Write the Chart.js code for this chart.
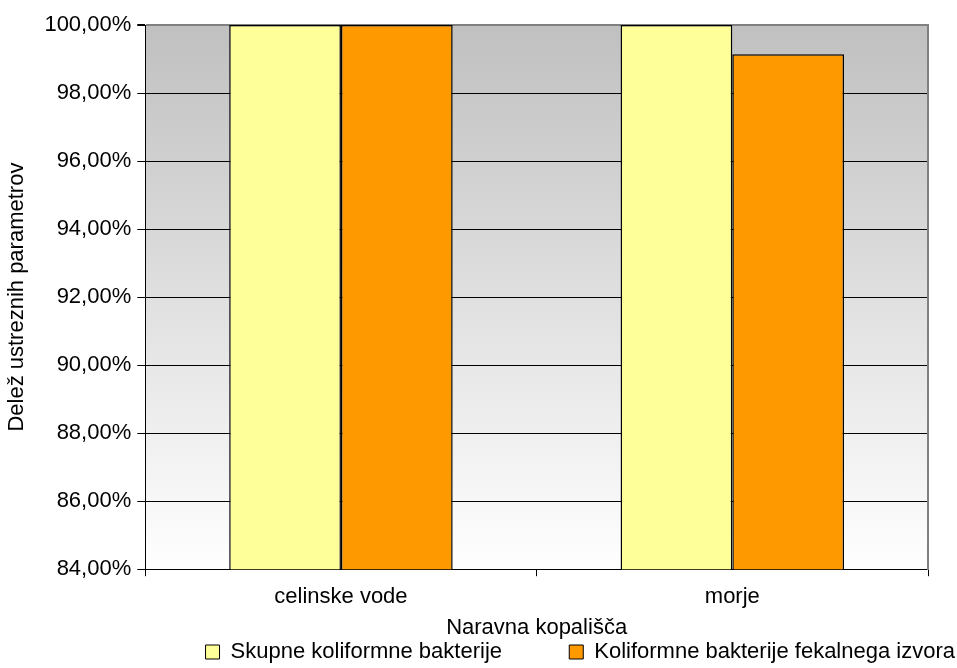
<!DOCTYPE html>
<html>
<head>
<meta charset="utf-8">
<script src="https://cdn.jsdelivr.net/npm/chart.js@4.4.1/dist/chart.umd.min.js"></script>
<style>
  html, body { margin: 0; padding: 0; background: #fff; }
  #wrap { width: 957px; height: 668px; position: relative; }
</style>
</head>
<body>
<div id="wrap"><canvas id="chart"></canvas></div>
<script>
// kopališča in deleži ustreznih vzorcev (%)
var categories = ['celinske vode', 'morje'];
var skupneKoliformne = [100, 100];
var fekalneKoliformne = [100, 99.14];
var seriesNames = ['Skupne koliformne bakterije', 'Koliformne bakterije fekalnega izvora'];
var yMin = 84, yMax = 100, yStep = 2;

var FONT = 'Liberation Sans, Arial, sans-serif';
Chart.defaults.font.family = FONT;
Chart.defaults.font.size = 22;
Chart.defaults.color = '#000';

// siv prehod v ozadju risalne površine
var plotBackground = {
    id: 'plotBackground',
    beforeDraw: function (chart) {
        var a = chart.chartArea, ctx = chart.ctx;
        var g = ctx.createLinearGradient(0, a.top, 0, a.bottom);
        g.addColorStop(0, '#c0c0c0');
        g.addColorStop(1, '#ffffff');
        ctx.save();
        ctx.fillStyle = g;
        ctx.fillRect(a.left, a.top, a.right - a.left, a.bottom - a.top);
        ctx.restore();
    }
};

function pct(v) {
    return v.toFixed(2).replace('.', ',') + '%';
}

new Chart(document.getElementById('chart').getContext('2d'), {
    type: 'bar',
    data: {
        labels: categories,
        datasets: [{
            label: seriesNames[0],
            data: skupneKoliformne,
            backgroundColor: '#ffff99',
            borderColor: '#000',
            borderWidth: 1.5
        }, {
            label: seriesNames[1],
            data: fekalneKoliformne,
            backgroundColor: '#ff9900',
            borderColor: '#000',
            borderWidth: 1.5
        }]
    },
    options: {
        responsive: true,
        maintainAspectRatio: false,
        animation: false,
        layout: { padding: { left: 4, right: 2, top: 25, bottom: -5 } },
        datasets: { bar: { categoryPercentage: 0.571, barPercentage: 1 } },
        plugins: {
            legend: {
                position: 'bottom',
                align: 'end',
                labels: {
                    boxWidth: 14,
                    boxHeight: 14,
                    padding: 0,
                    font: { size: 22 },
                    generateLabels: function (chart) {
                        var n = chart.data.datasets.length;
                        return chart.data.datasets.map(function (ds, i) {
                            // razmik med vnosoma legende
                            var gap = i < n - 1 ? ' '.repeat(11) : '';
                            return {
                                text: ds.label + gap,
                                fillStyle: ds.backgroundColor,
                                strokeStyle: '#000',
                                lineWidth: 1,
                                datasetIndex: i
                            };
                        });
                    }
                }
            },
            tooltip: { enabled: false }
        },
        scales: {
            x: {
                grid: { drawOnChartArea: false, drawTicks: true, tickLength: 7, color: '#000' },
                border: { color: '#000', width: 1 },
                ticks: { padding: 8, font: { size: 22 } },
                title: { display: true, text: 'Naravna kopališča', font: { size: 22 }, padding: { top: -4, bottom: 0 } }
            },
            y: {
                min: yMin,
                max: yMax,
                ticks: { stepSize: yStep, padding: 6, callback: function (v) { return pct(v); } },
                grid: {
                    color: function (c) { return c.tick && c.tick.value === yMax ? '#808080' : '#000'; },
                    lineWidth: function (c) { return c.tick && c.tick.value === yMax ? 2 : 1; },
                    tickColor: '#000',
                    tickLength: 8
                },
                border: { color: '#000', width: 1 },
                title: { display: true, text: 'Delež ustreznih parametrov', font: { size: 22 }, padding: { top: 0, bottom: 8 } }
            },
            yRight: {
                position: 'right',
                min: yMin,
                max: yMax,
                ticks: { display: false },
                grid: { display: false },
                border: { color: '#808080', width: 2 },
                afterFit: function (scale) { scale.width = 27; }
            }
        }
    },
    plugins: [plotBackground]
});
</script>
</body>
</html>
